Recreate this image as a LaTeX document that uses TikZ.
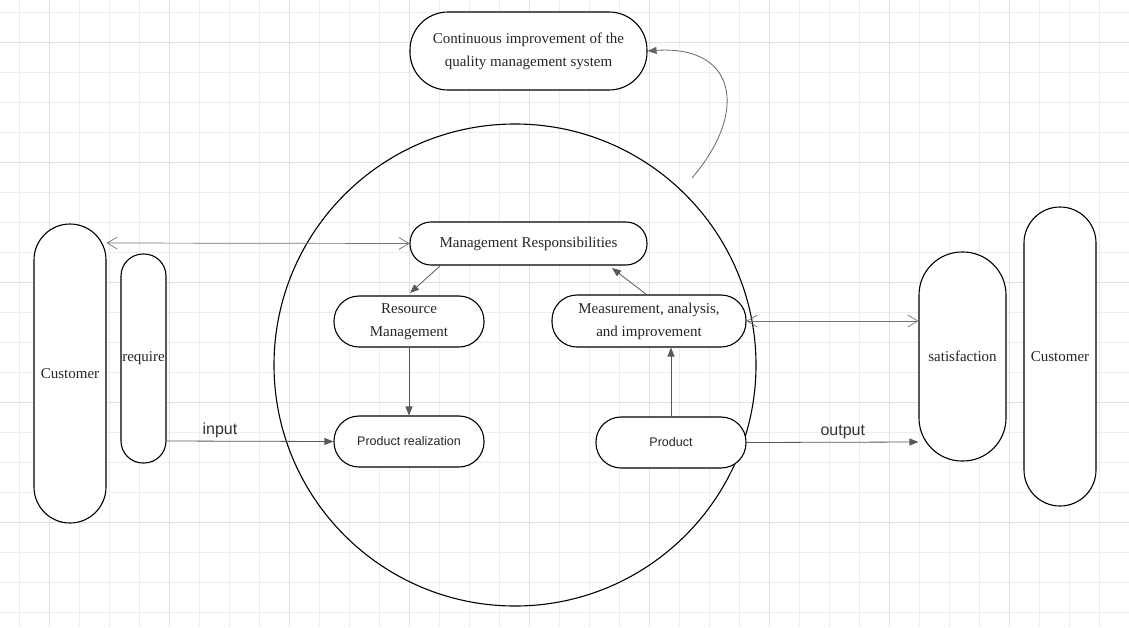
\documentclass[tikz,border=0pt]{standalone}
\usepackage{fontspec}
\setmainfont{Liberation Serif}
\setsansfont{Liberation Sans}
\usetikzlibrary{arrows.meta}
\begin{document}
\begin{tikzpicture}[x=1pt,y=-1pt,
  box/.style={draw=black,line width=1.1pt,rounded corners=#1,inner sep=0pt,fill=white,align=center,font=\fontsize{15}{23}\selectfont,text=black!85},
  box/.default=20pt,
  con/.style={draw=black!65,line width=0.8pt,-{Triangle[length=9pt,width=7pt]}},
  dbl/.style={draw=black!55,line width=0.7pt,{Straight Barb[length=10pt,width=12pt]}-{Straight Barb[length=10pt,width=12pt]}},
  lab/.style={font=\sffamily\fontsize{16}{18}\selectfont,text=black!80}]
\useasboundingbox (0,0) rectangle (1129,627);
\fill[white] (0,0) rectangle (1129,627);
\foreach \x in {19,49,...,1129} \draw[black!7,line width=0.6pt] (\x,0) -- (\x,627);
\foreach \y in {12,42,...,627} \draw[black!7,line width=0.6pt] (0,\y) -- (1129,\y);
\foreach \x in {49,169,...,1129} \draw[black!12,line width=0.6pt] (\x,0) -- (\x,627);
\foreach \y in {42,162,...,627} \draw[black!12,line width=0.6pt] (0,\y) -- (1129,\y);

\node[draw=black,line width=1.1pt,circle,minimum size=482pt,inner sep=0pt] (circ) at (515,365) {};

\node[box=38pt,minimum width=237pt,minimum height=78pt] (top) at (528.5,51) {Continuous improvement of the\\quality management system};
\node[box=36pt,minimum width=72pt,minimum height=299pt] (custL) at (70,373.5) {Customer};
\node[box=22pt,minimum width=45pt,minimum height=209pt] (req) at (143.5,358.5) {require};
\node[box=21pt,minimum width=237pt,minimum height=43pt] (mgmt) at (528.5,243.5) {Management Responsibilities};
\node[box=25pt,minimum width=150pt,minimum height=51pt] (res) at (409,321.5) {Resource\\Management};
\node[box=25pt,minimum width=194pt,minimum height=52pt] (meas) at (649,321) {Measurement, analysis,\\and improvement};
\node[box=25pt,minimum width=150pt,minimum height=51pt,font=\sffamily\fontsize{12.5}{14}\selectfont] (pr) at (409,441.5) {Product realization};
\node[box=25pt,minimum width=150pt,minimum height=51pt,font=\sffamily\fontsize{12.5}{14}\selectfont] (prod) at (671,442.5) {Product};
\node[box=43pt,minimum width=87pt,minimum height=209pt] (sat) at (962.5,356.5) {satisfaction};
\node[box=36pt,minimum width=72pt,minimum height=299pt] (custR) at (1060,356.5) {Customer};

\draw[dbl] (custL.east |- 0,243) -- (mgmt.west);
\draw[con] (440,266) -- (410,293);
\draw[con] (647,295) -- (612,268);
\draw[con] (res.south) -- (pr.north);
\draw[con] (prod.north) -- (meas.south -| prod.north);
\draw[con] (req.east |- 0,441) -- node[lab,above,pos=0.32]{input} (pr.west);
\draw[con] (prod.east) -- node[lab,above,pos=0.56]{output} (sat.west |- 0,442);
\draw[dbl] (meas.east) -- (sat.west |- 0,321);
\draw[con,black!60] (692,178) .. controls (750,110) and (735,45) .. (top.east);
\end{tikzpicture}
\end{document}
